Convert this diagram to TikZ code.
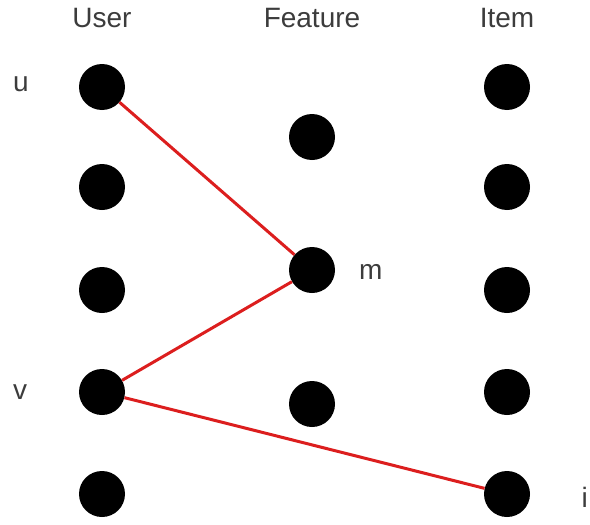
\documentclass[tikz,border=0pt]{standalone}
\usepackage{fontspec}
\setmainfont{Liberation Sans}
\definecolor{txt}{RGB}{60,60,60}
\definecolor{edge}{RGB}{220,30,30}
\begin{document}
\begin{tikzpicture}[x=1pt,y=-1pt,
  dot/.style={circle,fill=black,minimum size=46pt,inner sep=0pt},
  lbl/.style={text=txt,font=\fontsize{28}{30}\selectfont,inner sep=0pt},
  link/.style={draw=edge,line width=3pt}]
\useasboundingbox (0,0) rectangle (590,525);
\node[lbl] (hU) at (102,18) {User};
\node[lbl] (hF) at (312,18) {Feature};
\node[lbl] (hI) at (507,18) {Item};
\foreach \i/\y in {1/87,2/187,3/290,4/392,5/494}{
  \node[dot] (u\i) at (102,\y) {};
  \node[dot] (i\i) at (507,\y) {};
}
\node[dot] (f1) at (312,137) {};
\node[dot] (f2) at (312,270) {};
\node[dot] (f3) at (312,404) {};
\node[lbl,anchor=west] (lu) at (13,84) {u};
\node[lbl,anchor=west] (lv) at (13,392) {v};
\node[lbl,anchor=west] (lm) at (359,272) {m};
\node[lbl,anchor=east] (li) at (588,497) {i};
\draw[link] (u1) -- (f2);
\draw[link] (u4) -- (f2);
\draw[link] (u4) -- (i5);
\end{tikzpicture}
\end{document}
